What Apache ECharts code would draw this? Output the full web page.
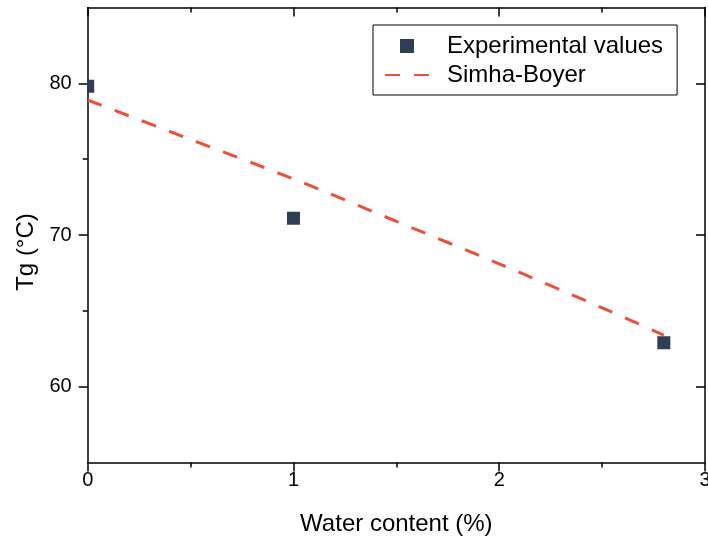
<!DOCTYPE html>
<html><head><meta charset="utf-8">
<script src="https://cdn.jsdelivr.net/npm/echarts@6/dist/echarts.min.js"></script>
<style>html,body{margin:0;padding:0;background:#fff}#c{width:708px;height:537px}</style>
</head><body><div id="c"></div>
<script>
const expX = [0, 1, 2.8];
const expY = [79.8, 71.1, 62.9];
const fitX = [0, 0.5, 1, 1.5, 2, 2.5, 2.8];
const fitY = [78.9, 76.3, 73.7, 70.9, 68.1, 65.2, 63.4];
const xTicks = [0, 1, 2, 3];
const yTicks = [60, 70, 80];
const yMinorTicks = [65, 75];

const FONT = "'Liberation Sans', Arial, sans-serif";
const chart = echarts.init(document.getElementById('c'));
const expData = expX.map((x, i) => [x, expY[i]]);
const fitData = fitX.map((x, i) => [x, fitY[i]]);
const lineSt = {color: '#000', width: 1.5};
const axisLine = {show: true, onZero: false, lineStyle: lineSt};
function yAx(extra) {
  return Object.assign({
    type: 'value', min: 55, max: 85,
    axisLine: axisLine, splitLine: {show: false}, axisLabel: {show: false}
  }, extra);
}
chart.setOption({
  animation: false,
  textStyle: {fontFamily: FONT},
  grid: {left: 87.7, right: 3, top: 7.5, bottom: 74.5, containLabel: false, outerBoundsMode: 'none'},
  legend: {
    orient: 'vertical', left: 373, top: 25,
    padding: [9, 14, 8, 11],
    borderColor: '#000', borderWidth: 1,
    itemWidth: 44, itemHeight: 14, itemGap: 5,
    textStyle: {fontFamily: FONT, fontSize: 24, color: '#000', lineHeight: 24, padding: [0, 0, 0, 13]},
    data: [
      {name: 'Experimental values', icon: 'path://M0,0L10,0L10,10L0,10Z'},
      {name: 'Simha-Boyer', itemStyle: {opacity: 0}}
    ]
  },
  xAxis: [{
    type: 'value', min: 0, max: 3, interval: 1,
    name: 'Water content (%)', nameLocation: 'middle', nameGap: 50,
    nameTextStyle: {fontFamily: FONT, fontSize: 24, color: '#000'},
    axisLine: axisLine,
    axisTick: {show: true, inside: false, length: 9, lineStyle: lineSt},
    minorTick: {show: true, splitNumber: 2, length: 5, lineStyle: lineSt},
    axisLabel: {fontFamily: FONT, fontSize: 20, color: '#000', margin: 8, formatter: v => xTicks.includes(v) ? String(v) : ''},
    splitLine: {show: false}
  }, {
    type: 'value', min: 0, max: 3, interval: 1, position: 'top',
    axisLine: axisLine,
    axisTick: {show: true, inside: true, length: 9, lineStyle: lineSt},
    minorTick: {show: true, splitNumber: 2, length: 5, lineStyle: lineSt},
    axisLabel: {show: false}, splitLine: {show: false}
  }],
  yAxis: [
    yAx({
      position: 'left',
      name: 'Tg (°C)', nameLocation: 'middle', nameGap: 48,
      nameTextStyle: {fontFamily: FONT, fontSize: 24, color: '#000', padding: [0, 34, 0, 0]},
      axisTick: {show: true, inside: false, length: 9, lineStyle: lineSt, customValues: yTicks},
      axisLabel: {show: true, fontFamily: FONT, fontSize: 20, color: '#000', margin: 16, customValues: yTicks}
    }),
    yAx({position: 'left', axisLine: {show: false},
      axisTick: {show: true, inside: false, length: 5, lineStyle: lineSt, customValues: yMinorTicks}}),
    yAx({position: 'right',
      axisTick: {show: true, inside: true, length: 9, lineStyle: lineSt, customValues: yTicks}}),
    yAx({position: 'right', axisLine: {show: false},
      axisTick: {show: true, inside: true, length: 5, lineStyle: lineSt, customValues: yMinorTicks}})
  ],
  series: [{
    name: 'Simha-Boyer', type: 'line', data: fitData, showSymbol: false,
    smooth: 0.3, xAxisIndex: 0, yAxisIndex: 0,
    lineStyle: {color: '#EE4E3A', width: 3, type: [15, 14]},
    itemStyle: {color: '#EE4E3A'}, z: 2
  }, {
    name: 'Experimental values', type: 'custom', data: expData, clip: true,
    xAxisIndex: 0, yAxisIndex: 0, z: 3,
    itemStyle: {color: '#2D3E55'},
    renderItem: function (params, api) {
      const p = api.coord([api.value(0), api.value(1)]);
      const s = 13;
      return {type: 'rect', shape: {x: p[0] - s / 2, y: p[1] - s / 2, width: s, height: s},
        style: {fill: '#2D3E55'}};
    }
  }]
});
</script></body></html>
